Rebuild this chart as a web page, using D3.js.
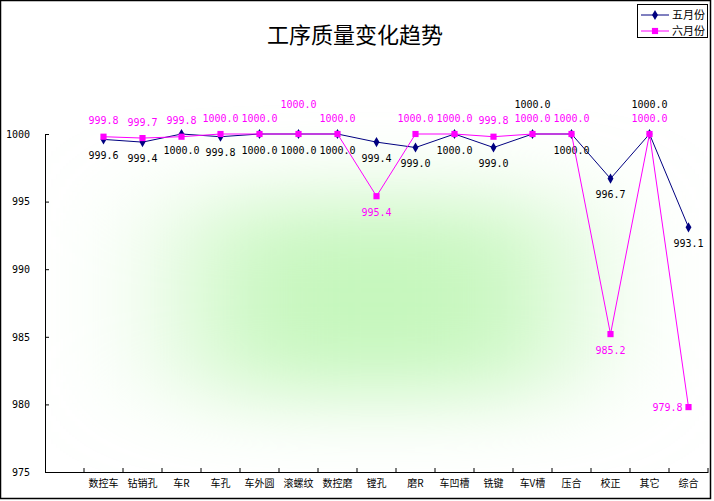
<!DOCTYPE html>
<html>
<head>
<meta charset="utf-8">
<script src="https://cdn.jsdelivr.net/npm/d3@7"></script>
<style>
  body { margin: 0; background: #fff; }
  svg { display: block; }
</style>
</head>
<body>
<div id="chart"></div>
<script>
// categories (first slot of the category axis is empty in the original)
const categories = ["", "数控车", "钻销孔", "车R", "车孔", "车外圆", "滚螺纹", "数控磨", "镗孔",
  "磨R", "车凹槽", "铣键", "车V槽", "压合", "校正", "其它", "综合"];
const may = [null, 999.6, 999.4, 1000.0, 999.8, 1000.0, 1000.0, 1000.0, 999.4,
  999.0, 1000.0, 999.0, 1000.0, 1000.0, 996.7, 1000.0, 993.1];
const june = [null, 999.8, 999.7, 999.8, 1000.0, 1000.0, 1000.0, 1000.0, 995.4,
  1000.0, 1000.0, 999.8, 1000.0, 1000.0, 985.2, 1000.0, 979.8];
const yTicks = [975, 980, 985, 990, 995, 1000];

// label placement: b = below, a = above, t = higher up, l = left
const mayPlace = ["", "b", "b", "b", "b", "b", "b", "b", "b", "b", "b", "b", "t", "b", "b", "t", "b"];
const junePlace = ["", "a", "a", "a", "a", "a", "t", "a", "b", "a", "a", "a", "a", "a", "b", "a", "l"];

const W = 714, H = 501;
const numFont = "'DejaVu Sans Mono', monospace";
const cjkFont = "'Noto Sans CJK SC', sans-serif";

const svg = d3.select("#chart").append("svg")
  .attr("width", W).attr("height", H);

const x = d3.scaleBand().domain(categories).range([45, 708]);
const y = d3.scaleLinear().domain([975, 1000]).range([472, 134]);

// soft green glow in the middle of the plot (blurred rectangle)
const defs = svg.append("defs");
defs.append("filter").attr("id", "glow")
  .attr("filterUnits", "userSpaceOnUse")
  .attr("x", 0).attr("y", 0).attr("width", W).attr("height", H)
  .append("feGaussianBlur").attr("stdDeviation", "72 40");
defs.append("clipPath").attr("id", "plotclip")
  .append("rect").attr("x", 46).attr("y", 100).attr("width", 662).attr("height", 371);
svg.append("g").attr("clip-path", "url(#plotclip)")
  .append("rect")
  .attr("x", 190).attr("y", 200).attr("width", 375).attr("height", 195)
  .attr("fill", "#c6f7bd").attr("filter", "url(#glow)");

// outer chart border
svg.append("rect")
  .attr("x", 0.5).attr("y", 0.5).attr("width", 710).attr("height", 498)
  .attr("fill", "none").attr("stroke", "#000").attr("stroke-width", 1.5);

// title
svg.append("text")
  .attr("x", 355).attr("y", 35).attr("dy", "0.35em")
  .attr("text-anchor", "middle")
  .style("font-family", cjkFont).style("font-size", "22px")
  .text("工序质量变化趋势");

// y axis
const yAxis = svg.append("g")
  .attr("transform", "translate(45,0)")
  .call(d3.axisLeft(y).tickValues(yTicks).tickFormat(d3.format("d"))
    .tickSizeInner(-4).tickSizeOuter(0).tickPadding(15));
yAxis.selectAll("text").style("font-family", numFont).style("font-size", "10px").attr("fill", "#000");

// x axis: labels in band centres, ticks on band edges
const xAxis = svg.append("g")
  .attr("transform", "translate(0,472)")
  .call(d3.axisBottom(x).tickSize(0).tickPadding(8));
xAxis.selectAll("text").style("font-family", cjkFont).style("font-size", "10px").attr("fill", "#000");
xAxis.selectAll(".edge").data(categories).enter().append("line")
  .attr("x1", d => x(d) + x.bandwidth()).attr("x2", d => x(d) + x.bandwidth())
  .attr("y1", 0).attr("y2", -4).attr("stroke", "#000");
svg.selectAll(".domain").attr("stroke", "#000");

const cx = i => x(categories[i]) + x.bandwidth() / 2;

function drawSeries(vals, color, symbol, size, place, textColor) {
  const idx = vals.map((v, i) => i).filter(i => vals[i] != null);
  const line = d3.line().x(i => cx(i)).y(i => y(vals[i]));
  svg.append("path").datum(idx)
    .attr("d", line).attr("fill", "none").attr("stroke", color).attr("stroke-width", 1);
  svg.append("g").selectAll("path").data(idx).enter().append("path")
    .attr("transform", i => `translate(${cx(i)},${y(vals[i])})`)
    .attr("d", d3.symbol().type(symbol).size(size))
    .attr("fill", color);
  svg.append("g").selectAll("text").data(idx).enter().append("text")
    .attr("x", i => place[i] === "l" ? cx(i) - 21 : cx(i))
    .attr("y", i => {
      const p = place[i], py = y(vals[i]);
      if (p === "a") return py - 16;
      if (p === "t") return py - 30;
      if (p === "l") return py;
      return py + 16;
    })
    .attr("dy", "0.35em")
    .attr("text-anchor", "middle")
    .attr("fill", textColor)
    .style("font-family", numFont).style("font-size", "10px")
    .text(i => d3.format(".1f")(vals[i]));
}

drawSeries(may, "#000080", d3.symbolDiamond, 30, mayPlace, "#000");
drawSeries(june, "#ff00ff", d3.symbolSquare, 38, junePlace, "#ff00ff");

// legend
const legend = svg.append("g");
legend.append("rect")
  .attr("x", 637.5).attr("y", 4.5).attr("width", 70).attr("height", 33)
  .attr("fill", "#fff").attr("stroke", "#000");
const legItems = [
  { name: "五月份", color: "#000080", symbol: d3.symbolDiamond, size: 30 },
  { name: "六月份", color: "#ff00ff", symbol: d3.symbolSquare, size: 38 }
];
const rows = legend.selectAll("g").data(legItems).enter().append("g")
  .attr("transform", (d, i) => `translate(0,${15 + i * 16})`);
rows.append("line").attr("x1", 641).attr("x2", 669).attr("y1", 0).attr("y2", 0)
  .attr("stroke", d => d.color);
rows.append("path").attr("transform", "translate(655,0)")
  .attr("d", d => d3.symbol().type(d.symbol).size(d.size)())
  .attr("fill", d => d.color);
rows.append("text").attr("x", 672).attr("dy", "0.35em")
  .style("font-family", cjkFont).style("font-size", "11px")
  .text(d => d.name);
</script>
</body>
</html>
